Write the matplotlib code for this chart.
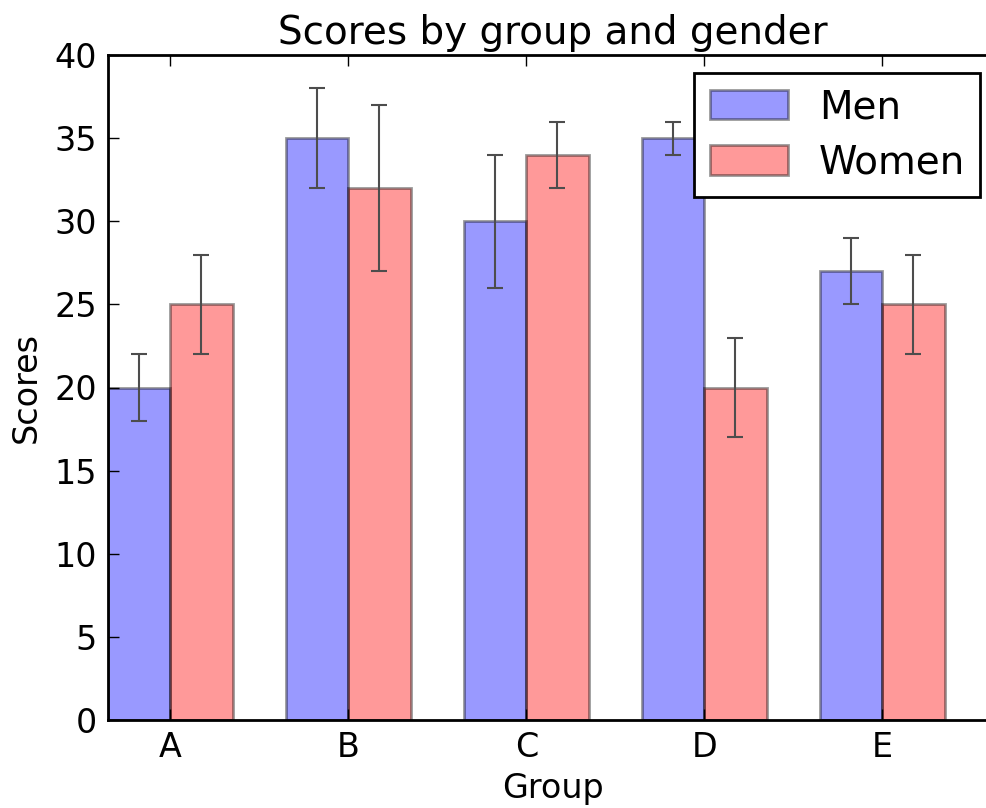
import numpy as np
import matplotlib
matplotlib.use('Agg')
import matplotlib.pyplot as plt

groups = ['A', 'B', 'C', 'D', 'E']
men_means = [20, 35, 30, 35, 27]
men_std = [2, 3, 4, 1, 2]
women_means = [25, 32, 34, 20, 25]
women_std = [3, 5, 2, 3, 3]

plt.rcParams['font.family'] = 'DejaVu Sans'

fig = plt.figure(figsize=(9.87, 8.08), dpi=100, facecolor='white')
ax = fig.add_axes([108 / 987, 88 / 808, 890 / 987, 665 / 808])

index = np.arange(len(groups))
bar_width = 0.35
err_kw = {'ecolor': '0.3', 'elinewidth': 1.5, 'capsize': 6, 'capthick': 1.5}

ax.bar(index, men_means, bar_width, align='edge', alpha=0.4, color='b',
       edgecolor='k', linewidth=2, yerr=men_std, error_kw=err_kw, label='Men')
ax.bar(index + bar_width, women_means, bar_width, align='edge', alpha=0.4, color='r',
       edgecolor='k', linewidth=2, yerr=women_std, error_kw=err_kw, label='Women')

ax.set_xlim(0, 5)
ax.set_ylim(0, 40)
ax.set_yticks(np.arange(0, 41, 5))
ax.set_xticks(index + bar_width)
ax.set_xticklabels(groups)
ax.tick_params(direction='in', length=8, width=1, labelsize=24, top=True, right=True, pad=8)
for s in ax.spines.values():
    s.set_linewidth(2)

ax.set_xlabel('Group', fontsize=24, labelpad=6)
ax.set_ylabel('Scores', fontsize=24, labelpad=8)
ax.set_title('Scores by group and gender', fontsize=28, pad=8)
leg = ax.legend(loc='upper right', fontsize=28, fancybox=False, framealpha=1,
                edgecolor='k', borderaxespad=0.45, handlelength=2.0, handleheight=0.8,
                labelspacing=0.45)
leg.get_frame().set_linewidth(2)

fig.savefig('out.png', dpi=100, facecolor='white')
